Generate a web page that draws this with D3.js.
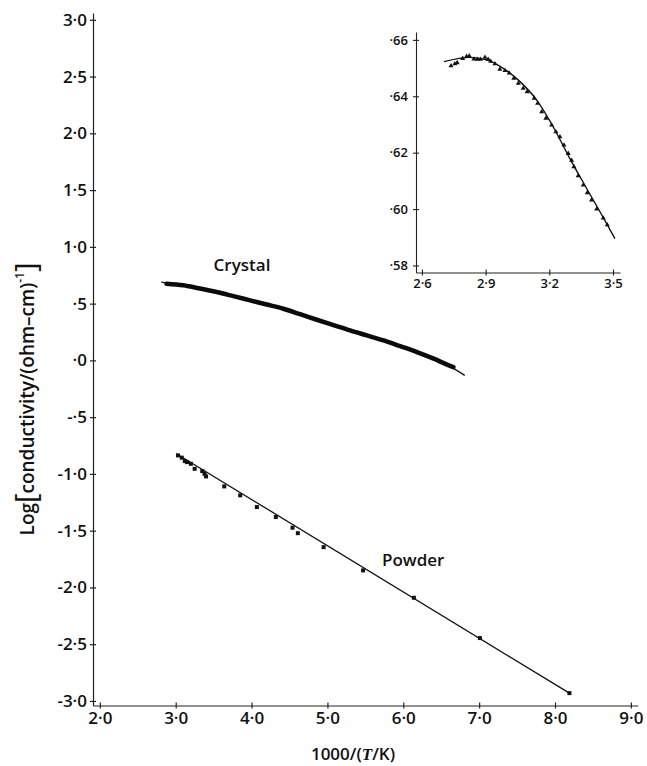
<!DOCTYPE html>
<html>
<head>
<meta charset="utf-8">
<title>Conductivity</title>
<script src="https://d3js.org/d3.v7.min.js"></script>
<style>
  body { margin: 0; background: #fff; }
  text { font-family: "Open Sans", sans-serif; fill: #111; }
</style>
</head>
<body>
<div id="chart"></div>
<script>
// main plot ticks
const mainXTicks = [2, 3, 4, 5, 6, 7, 8, 9];
const mainYTicks = [-3, -2.5, -2, -1.5, -1, -0.5, 0, 0.5, 1, 1.5, 2, 2.5, 3];

// crystal: dense measured band, and its fitted line
const crystalX = [2.88, 3.10, 3.32, 3.54, 3.76, 3.98, 4.20, 4.42, 4.64, 4.86, 5.08, 5.30, 5.52, 5.74, 5.96, 6.18, 6.40, 6.57, 6.66];
const crystalY = [0.675, 0.661, 0.633, 0.602, 0.566, 0.529, 0.492, 0.455, 0.407, 0.358, 0.311, 0.264, 0.220, 0.176, 0.125, 0.073, 0.015, -0.035, -0.059];
const crystalFitX = [2.81, 3.10, 3.54, 3.98, 4.42, 4.86, 5.30, 5.74, 6.18, 6.57, 6.81];
const crystalFitY = [0.690, 0.661, 0.602, 0.529, 0.455, 0.358, 0.264, 0.176, 0.073, -0.035, -0.132];

// powder points and fitted line
const powderX = [3.03, 3.08, 3.12, 3.15, 3.20, 3.25, 3.35, 3.38, 3.40, 3.64, 3.85, 4.07, 4.32, 4.54, 4.61, 4.95, 5.47, 6.14, 7.01, 8.19];
const powderY = [-0.837, -0.857, -0.887, -0.896, -0.911, -0.955, -0.975, -0.999, -1.022, -1.110, -1.189, -1.292, -1.380, -1.474, -1.522, -1.645, -1.850, -2.091, -2.446, -2.931];
const powderFitX = [3.01, 8.19];
const powderFitY = [-0.822, -2.931];

// inset: crystal near the maximum
const insetXTicks = [2.6, 2.9, 3.2, 3.5];
const insetYTicks = [0.58, 0.60, 0.62, 0.64, 0.66];
const insetX = [2.737, 2.755, 2.766, 2.792, 2.810, 2.823, 2.845, 2.861, 2.876, 2.897, 2.912, 2.924, 2.944, 2.967, 2.991, 3.011, 3.033, 3.054, 3.077, 3.096, 3.129, 3.145, 3.164, 3.184, 3.211, 3.231, 3.250, 3.269, 3.289, 3.305, 3.316, 3.336, 3.360, 3.379, 3.399, 3.423, 3.454, 3.473];
const insetY = [0.6508, 0.6515, 0.6519, 0.6534, 0.6541, 0.6543, 0.6532, 0.6531, 0.6531, 0.6538, 0.6531, 0.6524, 0.6515, 0.6496, 0.6491, 0.6482, 0.6464, 0.6446, 0.6428, 0.6416, 0.6393, 0.6375, 0.6345, 0.6322, 0.6298, 0.6274, 0.6256, 0.6227, 0.6197, 0.6173, 0.6150, 0.6118, 0.6085, 0.6058, 0.6032, 0.6000, 0.5968, 0.5944];
const insetFitX = [2.704, 2.826, 2.905, 2.983, 3.062, 3.140, 3.218, 3.297, 3.376, 3.454, 3.509];
const insetFitY = [0.6523, 0.6538, 0.6529, 0.6499, 0.6452, 0.6387, 0.6292, 0.6179, 0.6073, 0.5970, 0.5895];

const W = 647, H = 766;

function fmt(v, dec) {
    // 2.5 -> "2·5", 0.5 -> "·5", -0.5 -> "-·5"
    let s = Math.abs(v).toFixed(dec).replace(".", "\u00b7");
    if (Math.abs(v) < 1) s = s.replace(/^0/, "");
    return (v < 0 ? "-" : "") + s;
}

let svg = d3.select("#chart").append("svg")
    .attr("width", W)
    .attr("height", H);

let xScale = d3.scaleLinear().domain([1.91, 9.09]).range([93, 637.7]);
let yScale = d3.scaleLinear().domain([-3.04, 3.06]).range([705.5, 13]);

let xAxis = d3.axisBottom(xScale)
    .tickValues(mainXTicks)
    .tickSizeInner(3).tickSizeOuter(0)
    .tickPadding(3)
    .tickFormat(d => fmt(d, 1));
let yAxis = d3.axisLeft(yScale)
    .tickValues(mainYTicks)
    .tickSizeInner(3).tickSizeOuter(0)
    .tickPadding(3)
    .tickFormat(d => fmt(d, 1));

let gx = svg.append("g")
    .attr("transform", "translate(0," + yScale(-3.04) + ")")
    .call(xAxis);
let gy = svg.append("g")
    .attr("transform", "translate(" + xScale(1.91) + ",0)")
    .call(yAxis);

[gx, gy].forEach(g => {
    g.select(".domain").attr("stroke", "#222").attr("stroke-width", 1.2);
    g.selectAll(".tick line").attr("stroke", "#222").attr("stroke-width", 1.2);
    g.selectAll(".tick text")
        .attr("font-family", "'Open Sans', sans-serif")
        .attr("font-weight", 600)
        .attr("font-size", 17)
        .attr("fill", "#111");
});
gx.selectAll(".tick line").attr("y1", -3);
gy.selectAll(".tick line").attr("x1", 3);

// axis titles
let xt = svg.append("text")
    .attr("x", 353).attr("y", 760)
    .attr("text-anchor", "middle")
    .attr("font-size", 17)
    .attr("font-weight", 600);
xt.append("tspan").text("1000/(");
xt.append("tspan").attr("font-style", "italic").attr("font-family", "'Liberation Serif', serif").text("T");
xt.append("tspan").text("/K)");

let yt = svg.append("text")
    .attr("transform", "translate(34,399) rotate(-90)")
    .attr("text-anchor", "middle")
    .attr("font-size", 19)
    .attr("font-weight", 600);
yt.append("tspan").text("Log");
yt.append("tspan").attr("font-size", 29).attr("font-weight", 400).attr("dy", 2).text("[");
yt.append("tspan").attr("dy", -2).text("conductivity/(ohm\u2013cm)");
yt.append("tspan").attr("font-size", 12).attr("dy", -10).text("-1");
yt.append("tspan").attr("font-size", 29).attr("font-weight", 400).attr("dy", 12).text("]");

// crystal
let line = d3.line().x(d => xScale(d[0])).y(d => yScale(d[1])).curve(d3.curveMonotoneX);
svg.append("path")
    .datum(crystalFitX.map((x, i) => [x, crystalFitY[i]]))
    .attr("d", line)
    .attr("fill", "none").attr("stroke", "#111").attr("stroke-width", 1.3);
svg.append("path")
    .datum(crystalX.map((x, i) => [x, crystalY[i]]))
    .attr("d", line)
    .attr("fill", "none").attr("stroke", "#0b0b0b").attr("stroke-width", 4.5)
    .attr("stroke-linecap", "round");

svg.append("text")
    .attr("x", 242).attr("y", 271)
    .attr("text-anchor", "middle")
    .attr("font-size", 17).attr("font-weight", 600)
    .text("Crystal");

// powder
let pline = d3.line().x(d => xScale(d[0])).y(d => yScale(d[1]));
svg.append("path")
    .datum(powderFitX.map((x, i) => [x, powderFitY[i]]))
    .attr("d", pline)
    .attr("fill", "none").attr("stroke", "#111").attr("stroke-width", 1.3);
svg.selectAll("rect.powder")
    .data(powderX.map((x, i) => [x, powderY[i]]))
    .enter().append("rect")
    .attr("class", "powder")
    .attr("x", d => xScale(d[0]) - 2)
    .attr("y", d => yScale(d[1]) - 2)
    .attr("width", 4).attr("height", 4)
    .attr("fill", "#111");

svg.append("text")
    .attr("x", 382).attr("y", 566)
    .attr("font-size", 17).attr("font-weight", 600)
    .text("Powder");

// inset
let ixScale = d3.scaleLinear().domain([2.572, 3.533]).range([416, 620]);
let iyScale = d3.scaleLinear().domain([0.5775, 0.6628]).range([272.5, 32]);

let ixAxis = d3.axisBottom(ixScale)
    .tickValues(insetXTicks)
    .tickSizeInner(3).tickSizeOuter(0)
    .tickPadding(3)
    .tickFormat(d => fmt(d, 1));
let iyAxis = d3.axisLeft(iyScale)
    .tickValues(insetYTicks)
    .tickSizeInner(3).tickSizeOuter(0)
    .tickPadding(5)
    .tickFormat(d => fmt(d, 2));

let igx = svg.append("g")
    .attr("transform", "translate(0," + iyScale(0.5775) + ")")
    .call(ixAxis);
let igy = svg.append("g")
    .attr("transform", "translate(" + ixScale(2.572) + ",0)")
    .call(iyAxis);
[igx, igy].forEach(g => {
    g.select(".domain").attr("stroke", "#222").attr("stroke-width", 1.1);
    g.selectAll(".tick line").attr("stroke", "#222").attr("stroke-width", 1.1);
    g.selectAll(".tick text")
        .attr("font-family", "'Open Sans', sans-serif")
        .attr("font-weight", 600)
        .attr("font-size", 13)
        .attr("fill", "#111");
});
igx.selectAll(".tick line").attr("y1", -3);
igy.selectAll(".tick line").attr("x1", 3);

let iline = d3.line().x(d => ixScale(d[0])).y(d => iyScale(d[1])).curve(d3.curveMonotoneX);
svg.append("path")
    .datum(insetFitX.map((x, i) => [x, insetFitY[i]]))
    .attr("d", iline)
    .attr("fill", "none").attr("stroke", "#111").attr("stroke-width", 1.4);

svg.selectAll("path.tri")
    .data(insetX.map((x, i) => [x, insetY[i]]))
    .enter().append("path")
    .attr("class", "tri")
    .attr("d", d3.symbol().type(d3.symbolTriangle).size(11))
    .attr("transform", d => "translate(" + ixScale(d[0]) + "," + iyScale(d[1]) + ")")
    .attr("fill", "#111");
</script>
</body>
</html>
